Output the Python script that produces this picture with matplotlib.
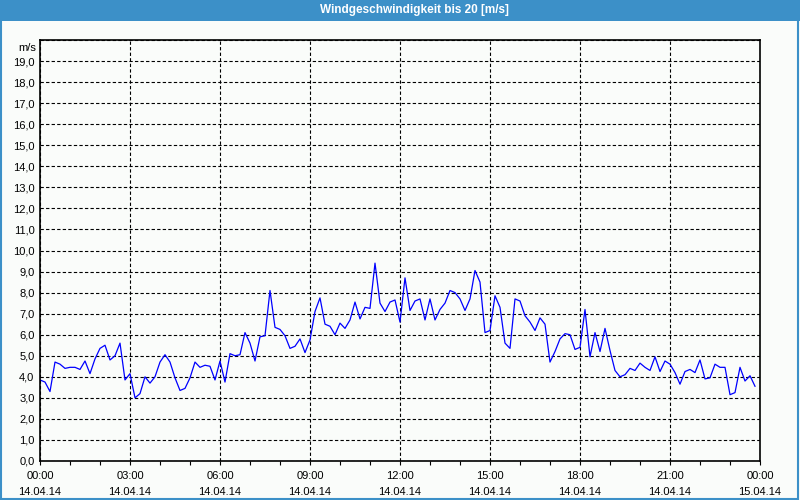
import numpy as np
import pandas as pd
import matplotlib
matplotlib.use('Agg')
import matplotlib.pyplot as plt
import matplotlib.dates as mdates
from matplotlib.patches import Rectangle
from matplotlib.ticker import MultipleLocator, FuncFormatter

# wind speed in m/s, one value every 10 minutes from 14.04.14 00:00
speed = [
    3.85, 3.75, 3.3, 4.7, 4.6, 4.4, 4.45, 4.45, 4.35, 4.75, 4.15, 4.85,
    5.35, 5.5, 4.8, 5.0, 5.6, 3.85, 4.15, 3.0, 3.2, 4.0, 3.7, 4.0,
    4.7, 5.05, 4.7, 3.95, 3.35, 3.45, 3.95, 4.7, 4.45, 4.55, 4.5, 3.85,
    4.75, 3.75, 5.1, 5.0, 5.05, 6.1, 5.6, 4.75, 5.9, 5.95, 8.1, 6.35,
    6.25, 5.95, 5.35, 5.45, 5.8, 5.15, 5.75, 7.1, 7.75, 6.5, 6.4, 6.0,
    6.55, 6.3, 6.7, 7.55, 6.75, 7.3, 7.25, 9.4, 7.5, 7.1, 7.55, 7.65,
    6.6, 8.7, 7.15, 7.6, 7.7, 6.7, 7.7, 6.7, 7.2, 7.5, 8.1, 8.0,
    7.7, 7.15, 7.7, 9.05, 8.5, 6.1, 6.2, 7.85, 7.3, 5.6, 5.35, 7.7,
    7.6, 6.9, 6.6, 6.2, 6.8, 6.5, 4.7, 5.2, 5.8, 6.05, 6.0, 5.3,
    5.4, 7.2, 4.95, 6.1, 5.2, 6.3, 5.25, 4.3, 4.0, 4.1, 4.4, 4.3,
    4.65, 4.45, 4.3, 4.95, 4.25, 4.75, 4.6, 4.2, 3.65, 4.25, 4.35, 4.2,
    4.8, 3.9, 3.95, 4.6, 4.45, 4.45, 3.15, 3.25, 4.45, 3.8, 4.05, 3.55,
]
times = pd.date_range('2014-04-14 00:00', periods=len(speed), freq='10min')
t_start = pd.Timestamp('2014-04-14 00:00')
t_end = pd.Timestamp('2014-04-15 00:00')

title = 'Windgeschwindigkeit bis 20 [m/s]'
unit = 'm/s'

bg = '#fafcfa'
bar_blue = '#3c90c8'

plt.rcParams['font.family'] = ['Liberation Sans', 'DejaVu Sans']

fig = plt.figure(figsize=(8, 5), dpi=100, facecolor=bg)

# title bar and outer border
fig.patches.append(Rectangle((0, 1 - 21 / 500), 1, 21 / 500, transform=fig.transFigure,
                             facecolor=bar_blue, edgecolor='none'))
fig.patches.append(Rectangle((0.001, 0.002), 0.997, 0.996, transform=fig.transFigure,
                             facecolor='none', edgecolor=bar_blue, linewidth=1.5))
fig.text(414 / 800, 1 - 10.5 / 500, title, color='white', fontsize=8.5,
         fontweight='bold', ha='center', va='center')

ax = fig.add_axes([40 / 800, 39 / 500, 720 / 800, 421 / 500])
ax.set_facecolor(bg)
ax.plot(times, speed, color='#0000ff', linewidth=0.9)

ax.set_xlim(t_start, t_end)
ax.set_ylim(0, 20)

ax.xaxis.set_major_locator(mdates.HourLocator(byhour=range(0, 24, 3)))
ax.xaxis.set_minor_locator(mdates.HourLocator())
ax.xaxis.set_major_formatter(mdates.DateFormatter('%H:%M\n%d.%m.%y'))
ax.yaxis.set_major_locator(MultipleLocator(1))
ax.yaxis.set_major_formatter(FuncFormatter(
    lambda v, p: '' if v > 19.5 else f'{v:.1f}'.replace('.', ',')))

ax.tick_params(axis='x', which='both', direction='out', length=3, width=0.8,
               labelsize=8, pad=4)
ax.tick_params(axis='y', which='both', length=0, labelsize=8, pad=4)
for lab in ax.get_xticklabels():
    lab.set_linespacing(1.75)

ax.grid(True, which='major', color='black', linestyle=(0, (3, 2)), linewidth=0.8)
for s in ax.spines.values():
    s.set_color('black')
    s.set_linewidth(1.2)

ax.text(-0.006, 20 - 0.15, unit, transform=ax.get_yaxis_transform(), ha='right',
        va='top', fontsize=8)

fig.savefig('out.png', dpi=100, facecolor=bg)
